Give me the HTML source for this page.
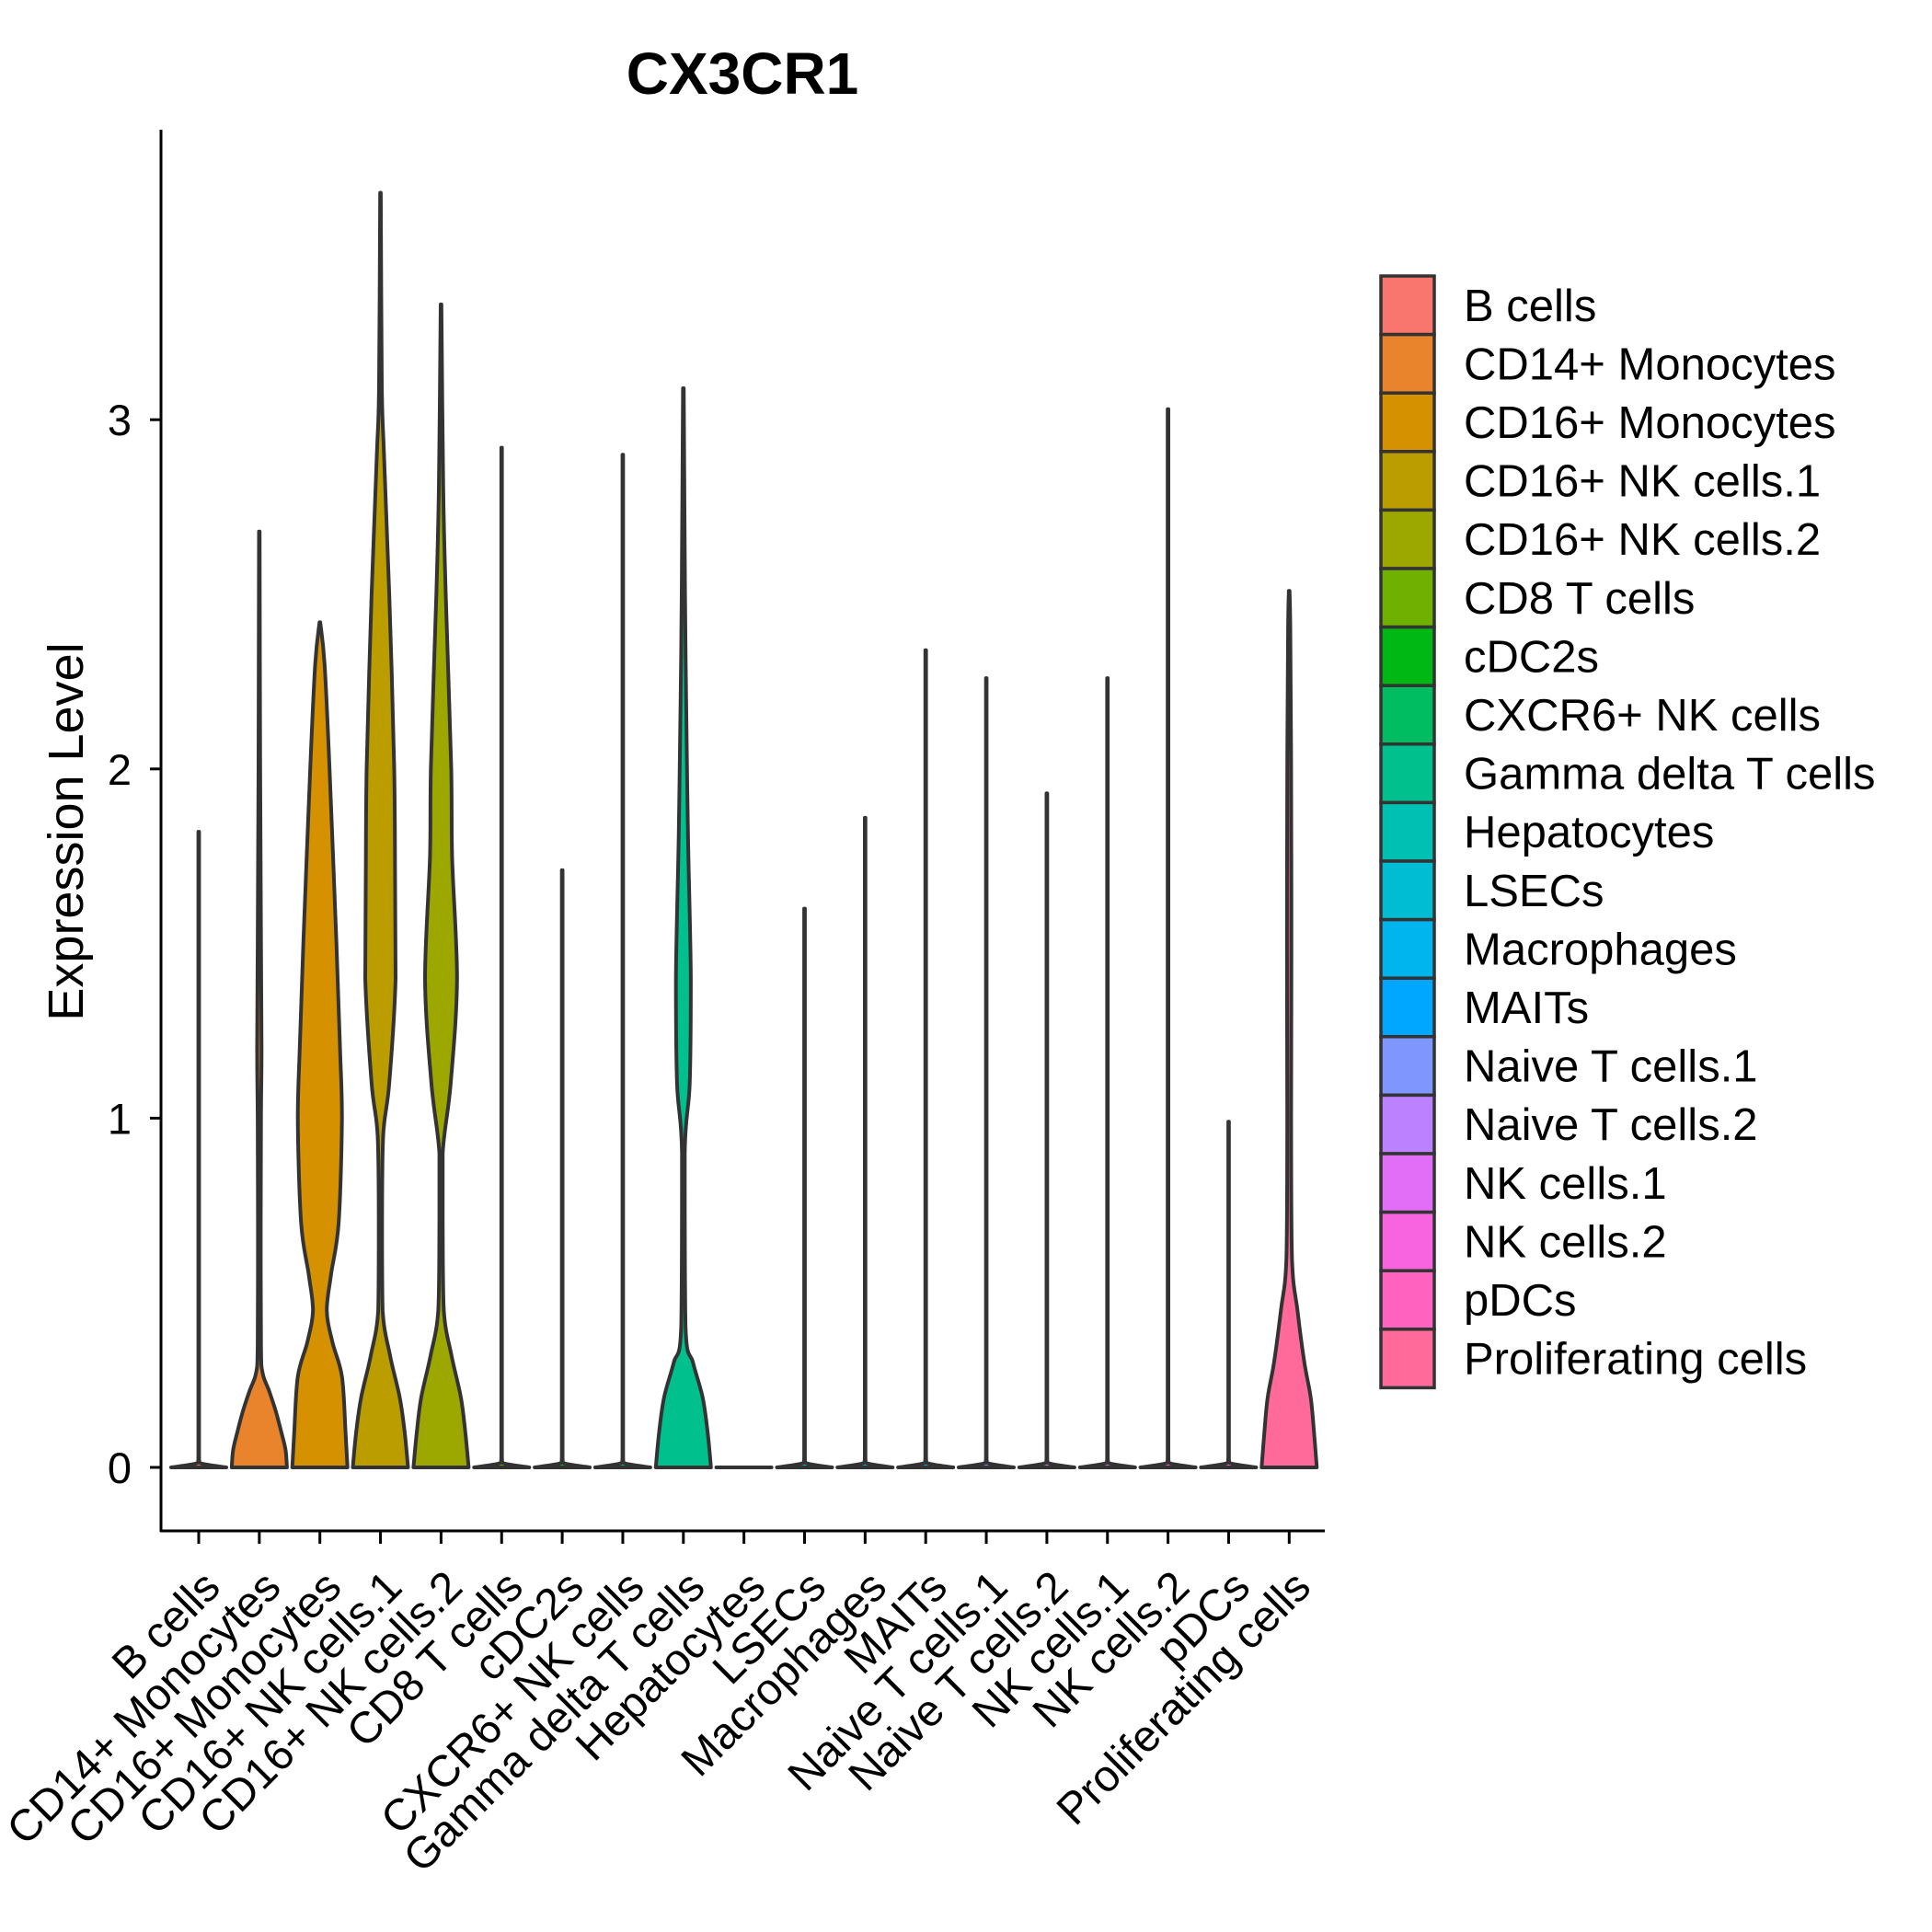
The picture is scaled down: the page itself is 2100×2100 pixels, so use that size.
<!DOCTYPE html>
<html><head><meta charset="utf-8"><style>
html,body{margin:0;padding:0;background:#fff;}
svg{display:block;font-family:"Liberation Sans",Arial,sans-serif;}
</style></head><body>
<svg id="chart" width="2100" height="2100" viewBox="0 0 2100 2100" xmlns="http://www.w3.org/2000/svg">
<text x="807" y="102" font-size="64" font-weight="bold" text-anchor="middle">CX3CR1</text>
<text transform="translate(90,904) rotate(-90)" font-size="54" text-anchor="middle">Expression Level</text>
<g id="violins"></g>
<g id="axes"></g>
<g id="legend"></g>
</svg>
<script>
const categories = ["B cells","CD14+ Monocytes","CD16+ Monocytes","CD16+ NK cells.1","CD16+ NK cells.2","CD8 T cells","cDC2s","CXCR6+ NK cells","Gamma delta T cells","Hepatocytes","LSECs","Macrophages","MAITs","Naive T cells.1","Naive T cells.2","NK cells.1","NK cells.2","pDCs","Proliferating cells"];
const colors = ["#F8766D","#E9842C","#D69100","#BC9D00","#9CA700","#6FB000","#00B813","#00BD61","#00C08E","#00C0B4","#00BDD4","#00B5EE","#00A7FF","#7F96FF","#BC81FF","#E26EF7","#F863DF","#FF62BF","#FF6A9A"];
const maxValues = [1.82,2.68,2.42,3.65,3.33,2.92,1.71,2.90,3.09,0,1.60,1.86,2.34,2.26,1.93,2.26,3.03,0.99,2.51];
const yTicks = [0,1,2,3];
// density profiles: [value, relative width]
const thin = [[0,1],[0.012,0.06],[0.03,0.012]];
const profiles = [
 thin,
 [[0,1],[0.05,0.95],[0.1,0.8],[0.16,0.6],[0.22,0.35],[0.27,0.12],[0.35,0.06],[0.7,0.05],[1.0,0.06],[1.2,0.08],[1.5,0.06],[2.0,0.03]],
 [[0,1],[0.1,0.93],[0.26,0.8],[0.36,0.45],[0.45,0.25],[0.55,0.4],[0.7,0.68],[1.0,0.8],[1.2,0.73],[1.5,0.6],[2.0,0.35],[2.3,0.17]],
 [[0,1],[0.1,0.88],[0.2,0.7],[0.32,0.35],[0.45,0.08],[0.7,0.06],[0.95,0.1],[1.1,0.32],[1.4,0.55],[1.7,0.53],[2.0,0.5],[2.5,0.32],[2.9,0.13],[3.1,0.05]],
 [[0,1],[0.1,0.88],[0.2,0.72],[0.32,0.38],[0.45,0.1],[0.7,0.06],[0.9,0.06],[1.1,0.35],[1.4,0.58],[1.75,0.4],[2.0,0.37],[2.5,0.17],[2.8,0.08]],
 thin, thin, thin,
 [[0,1],[0.1,0.88],[0.2,0.7],[0.3,0.35],[0.4,0.08],[0.9,0.05],[1.1,0.23],[1.4,0.27],[1.8,0.17],[2.2,0.1],[2.5,0.06]],
 [[0,1]],
 thin, thin, thin, thin, thin, thin, thin, thin,
 [[0,1],[0.1,0.9],[0.2,0.78],[0.3,0.55],[0.45,0.3],[0.6,0.1],[1.0,0.07],[1.5,0.08],[2.0,0.07],[2.4,0.04]]
];
const NS="http://www.w3.org/2000/svg";
const X0=216, DX=65.85, Y0=1595, UNIT=379.6, HALF=30;
const xPos=i=>X0+i*DX;
const yPos=v=>Y0-v*UNIT;
const clamp=(v,a,b)=>Math.min(Math.max(v,Math.min(a,b)),Math.max(a,b));
function smooth(pts){
  let d='';
  for(let i=0;i<pts.length-1;i++){
    const p0=pts[Math.max(0,i-1)],p1=pts[i],p2=pts[i+1],p3=pts[Math.min(pts.length-1,i+2)];
    let c1=[p1[0]+(p2[0]-p0[0])/6,p1[1]+(p2[1]-p0[1])/6];
    let c2=[p2[0]-(p3[0]-p1[0])/6,p2[1]-(p3[1]-p1[1])/6];
    c1=[clamp(c1[0],p1[0],p2[0]),clamp(c1[1],p1[1],p2[1])];
    c2=[clamp(c2[0],p1[0],p2[0]),clamp(c2[1],p1[1],p2[1])];
    d+=` C${c1[0].toFixed(1)},${c1[1].toFixed(1)} ${c2[0].toFixed(1)},${c2[1].toFixed(1)} ${p2[0].toFixed(1)},${p2[1].toFixed(1)}`;
  }
  return d;
}
const vg=document.getElementById('violins');
categories.forEach((c,i)=>{
  const cx=xPos(i);
  let prof=profiles[i].slice();
  const mx=maxValues[i];
  prof=prof.filter(p=>p[0]<mx);
  if(mx>0) prof.push([mx,0.012]); else prof=[[0,1],[0,1]];
  const right=prof.map(p=>[cx+p[1]*HALF,yPos(p[0])]);
  const left=prof.slice().reverse().map(p=>[cx-p[1]*HALF,yPos(p[0])]);
  let d=`M${right[0][0].toFixed(1)},${right[0][1].toFixed(1)}`+smooth(right)+` L${left[0][0].toFixed(1)},${left[0][1].toFixed(1)}`+smooth(left)+' Z';
  const path=document.createElementNS(NS,'path');
  path.setAttribute('d',d);
  path.setAttribute('fill',colors[i]);
  path.setAttribute('stroke','#333333');
  path.setAttribute('stroke-width','4');
  path.setAttribute('stroke-linejoin','round');
  
  
  vg.appendChild(path);
});
const ag=document.getElementById('axes');
function mk(tag,attrs,parent){const e=document.createElementNS(NS,tag);for(const k in attrs)e.setAttribute(k,attrs[k]);parent.appendChild(e);return e;}
const yl=mk('line',{x1:175,y1:141,x2:175,y2:1665,stroke:'#000','stroke-width':3},ag);


const xl=mk('line',{x1:174,y1:1664,x2:1440,y2:1664,stroke:'#000','stroke-width':3},ag);


yTicks.forEach(t=>{
  const tk=mk('line',{x1:163,y1:yPos(t),x2:175,y2:yPos(t),stroke:'#000','stroke-width':3},ag);
  
  
  const tx=mk('text',{x:143,y:yPos(t)+17,'font-size':47,'text-anchor':'end'},ag);
  tx.textContent=String(t);
  
  
});
categories.forEach((c,i)=>{
  const x=xPos(i);
  const tk=mk('line',{x1:x,y1:1664,x2:x,y2:1678,stroke:'#000','stroke-width':3},ag);
  
  
  const tx=mk('text',{transform:`translate(${x+2},${1704}) rotate(-45)`,'font-size':48,'text-anchor':'end',dy:'0.7em'},ag);
  tx.textContent=c;
  
  
});
const lg=document.getElementById('legend');
const KY=300, KH=63.6;
categories.forEach((c,i)=>{
  const r=mk('rect',{x:1501,y:KY+i*KH,width:58,height:KH,fill:colors[i],stroke:'#333333','stroke-width':3.5},lg);
  
  
  const t=mk('text',{x:1591,y:KY+i*KH+KH/2+17,'font-size':49},lg);
  t.textContent=c;
  
  
});
</script>
</body></html>
